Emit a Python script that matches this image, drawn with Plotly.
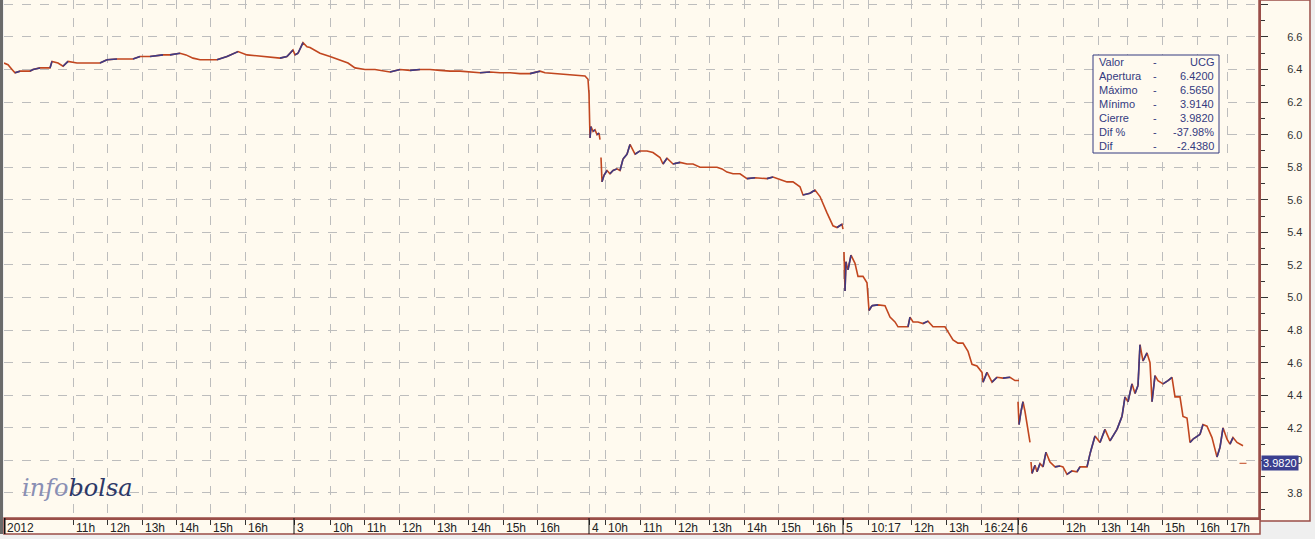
import plotly.graph_objects as go

# intraday bars (bar index along the compressed trading axis) and prices, one block per session
d2_bar = [0, 4, 8, 11, 16, 26, 29, 36, 46, 48, 54, 59, 64, 73, 86, 96, 103, 113, 129, 136, 146, 159, 166,
          176, 182, 189, 196, 206, 213, 223, 234, 243, 251, 263, 276, 283, 289]
d2_price = [6.44, 6.43, 6.40, 6.38, 6.39, 6.39, 6.40, 6.41, 6.41, 6.45, 6.44, 6.42, 6.45, 6.44, 6.44, 6.44,
            6.46, 6.465, 6.465, 6.48, 6.48, 6.49, 6.49, 6.50, 6.49, 6.47, 6.46, 6.46, 6.46, 6.48, 6.51, 6.49,
            6.485, 6.48, 6.47, 6.48, 6.52]

d3_bar = [291, 294, 299, 303, 306, 311, 316, 326, 336, 344, 351, 361, 371, 381, 386, 396, 406, 416, 426,
          436, 446, 456, 466, 476, 486, 496, 506, 516, 526, 536, 541, 551, 561, 571, 581, 584]
d3_price = [6.49, 6.50, 6.565, 6.54, 6.535, 6.52, 6.50, 6.48, 6.46, 6.44, 6.41, 6.40, 6.40, 6.39, 6.385,
            6.40, 6.395, 6.40, 6.40, 6.395, 6.39, 6.39, 6.385, 6.38, 6.385, 6.38, 6.38, 6.375, 6.375, 6.39,
            6.38, 6.375, 6.37, 6.365, 6.36, 6.34]

d4a_bar = [585, 586, 587, 589, 591, 593, 595, 596]
d4a_price = [6.25, 5.98, 6.05, 6.02, 6.03, 6.00, 6.01, 5.97]
d4b_bar = [597, 598, 600, 603, 606, 609, 613, 616, 619, 623, 626, 629, 631, 636, 643, 649, 656, 659, 663,
           669, 676, 683, 689, 696, 706, 713, 718, 723, 729, 736, 743, 751, 763, 769, 776, 783, 789, 796,
           799, 806, 811, 816, 823, 829, 833, 838, 839]
d4b_price = [5.86, 5.71, 5.75, 5.78, 5.76, 5.78, 5.79, 5.78, 5.85, 5.88, 5.94, 5.90, 5.88, 5.90, 5.90,
             5.89, 5.86, 5.82, 5.855, 5.82, 5.83, 5.82, 5.82, 5.80, 5.80, 5.80, 5.79, 5.77, 5.76, 5.76,
             5.73, 5.735, 5.73, 5.74, 5.725, 5.71, 5.71, 5.68, 5.63, 5.64, 5.66, 5.62, 5.52, 5.44, 5.43,
             5.45, 5.42]

d5_bar = [840, 841, 842, 844, 847, 851, 854, 859, 863, 864, 865, 868, 874, 881, 886, 891, 894, 899, 904,
          906, 909, 914, 919, 924, 929, 936, 941, 943, 949, 954, 959, 964, 968, 973, 978, 979, 983, 988,
          993, 999, 1006, 1011, 1015]
d5_price = [5.28, 5.04, 5.22, 5.17, 5.26, 5.21, 5.13, 5.13, 5.09, 4.98, 4.92, 4.95, 4.955, 4.95, 4.88,
            4.85, 4.82, 4.82, 4.82, 4.88, 4.85, 4.85, 4.84, 4.855, 4.82, 4.82, 4.82, 4.80, 4.74, 4.72,
            4.72, 4.67, 4.59, 4.58, 4.54, 4.48, 4.54, 4.48, 4.51, 4.505, 4.51, 4.49, 4.49]

d6a_bar = [1014, 1015, 1017, 1019, 1021, 1023, 1025, 1026]
d6a_price = [4.36, 4.22, 4.30, 4.36, 4.30, 4.23, 4.15, 4.11]
d6b_bar = [1027, 1028, 1031, 1033, 1036, 1039, 1042, 1046, 1051, 1056, 1059, 1063, 1068, 1073, 1076, 1083,
           1086, 1091, 1096, 1101, 1106, 1113, 1118, 1121, 1124, 1128, 1131, 1134, 1136, 1139, 1143, 1146,
           1148, 1151, 1154, 1159, 1164, 1168, 1171, 1176, 1179, 1183, 1186, 1189, 1196, 1199, 1203, 1208,
           1213, 1216, 1219, 1223, 1226, 1229, 1233, 1236, 1239]
d6b_price = [3.99, 3.92, 3.97, 3.93, 3.98, 3.96, 4.05, 3.99, 3.96, 3.965, 3.96, 3.914, 3.935, 3.93, 3.96,
             3.96, 4.04, 4.15, 4.11, 4.19, 4.12, 4.19, 4.27, 4.39, 4.36, 4.47, 4.41, 4.46, 4.71, 4.61, 4.66,
             4.60, 4.36, 4.52, 4.49, 4.47, 4.49, 4.51, 4.39, 4.39, 4.27, 4.26, 4.11, 4.13, 4.16, 4.22, 4.21,
             4.14, 4.02, 4.08, 4.20, 4.13, 4.10, 4.14, 4.11, 4.10, 4.09]

close_bar = [1239]
close_price = [3.982]

# axis ticks
hour_bars = [69, 103, 138, 172, 206, 241, 326, 360, 395, 430, 464, 499, 533, 601, 636, 671, 705, 740, 774,
             809, 864, 907, 942, 977, 1059, 1094, 1123, 1158, 1193, 1223]
hour_labels = ["11h", "12h", "13h", "14h", "15h", "16h", "10h", "11h", "12h", "13h", "14h", "15h", "16h",
               "10h", "11h", "12h", "13h", "14h", "15h", "16h", "10:17", "12h", "13h", "16:24",
               "12h", "13h", "14h", "15h", "16h", "17h"]
day_bars = [0, 290, 585, 839, 1014]
day_labels = ["2012", "3", "4", "5", "6"]

info_rows = ["Valor", "Apertura", "Máximo", "Mínimo", "Cierre", "Dif %", "Dif"]
info_vals = ["UCG", "6.4200", "6.5650", "3.9140", "3.9820", "-37.98%", "-2.4380"]

RED = "#c1461f"
BLUE = "#3d3b86"
BROWN = "#9a4e48"
CREAM = "#fffaef"
GRID = "#bdbdbd"
NAVY = "#343a80"

segments = [(d2_bar + d3_bar + d4a_bar, d2_price + d3_price + d4a_price),
            (d4b_bar, d4b_price), (d5_bar, d5_price), (d6a_bar, d6a_price), (d6b_bar, d6b_price)]

xs, ys, ubx, uby = [], [], [], []
for bx, py in segments:
    xs += bx + [None]
    ys += py + [None]
    for i in range(len(py) - 1):
        if py[i + 1] > py[i]:
            ubx += [bx[i], bx[i + 1], None]
            uby += [py[i], py[i + 1], None]

fig = go.Figure()
fig.add_trace(go.Scatter(x=xs, y=ys, mode="lines", line=dict(color=RED, width=1.6),
                         hoverinfo="skip", showlegend=False, connectgaps=False))
fig.add_trace(go.Scatter(x=ubx, y=uby, mode="lines", line=dict(color=BLUE, width=1.6),
                         hoverinfo="skip", showlegend=False, connectgaps=False))
fig.add_trace(go.Scatter(x=close_bar, y=close_price, mode="markers",
                         marker=dict(symbol="line-ew", size=5, line=dict(color=RED, width=1)),
                         hoverinfo="skip", showlegend=False))

W, H = 1255.0, 518.0
shapes = []
# right price panel and bottom time strip
shapes.append(dict(type="rect", xref="paper", yref="paper", x0=1.0, x1=1306 / W, y0=-3 / H, y1=1.0,
                   fillcolor=CREAM, line=dict(color=BROWN, width=1.5), layer="below"))
shapes.append(dict(type="rect", xref="paper", yref="paper", x0=0, x1=1256 / W, y0=-16 / H, y1=0,
                   fillcolor=CREAM, line=dict(color=BROWN, width=1.5), layer="below"))
shapes.append(dict(type="rect", xref="paper", yref="paper", x0=-4 / W, x1=-1 / W, y0=-16 / H, y1=1,
                   fillcolor="#6a6a6a", line=dict(width=0), layer="above"))
# day separators in the time strip
for i, b in enumerate(day_bars):
    shapes.append(dict(type="line", xref="x", yref="paper", x0=b, x1=b, y0=-16 / H, y1=0,
                       line=dict(color="#111", width=3 if i == 0 else 1)))
# info box
shapes.append(dict(type="rect", xref="paper", yref="paper", x0=1089 / W, x1=1215 / W,
                   y0=(H - 153) / H, y1=(H - 55) / H, fillcolor=CREAM,
                   line=dict(color=NAVY, width=1), layer="above"))

annotations = []
for b, t in zip(hour_bars, hour_labels):
    annotations.append(dict(x=b, y=-1 / H, xref="x", yref="paper", text=t, showarrow=False,
                            xanchor="left", yanchor="top", xshift=1,
                            font=dict(family="Arial, Liberation Sans", size=12, color="#222")))
for b, t in zip(day_bars, day_labels):
    annotations.append(dict(x=b, y=-1 / H, xref="x", yref="paper", text=t, showarrow=False,
                            xanchor="left", yanchor="top", xshift=1,
                            font=dict(family="Arial, Liberation Sans", size=12, color="#222")))
for i, (lab, val) in enumerate(zip(info_rows, info_vals)):
    yc = (H - (62 + 14 * i)) / H
    f = dict(family="Arial, Liberation Sans", size=11, color=NAVY)
    annotations.append(dict(x=1093 / W, y=yc, xref="paper", yref="paper", text=lab, showarrow=False,
                            xanchor="left", yanchor="middle", font=f))
    annotations.append(dict(x=1147 / W, y=yc, xref="paper", yref="paper", text="-", showarrow=False,
                            xanchor="left", yanchor="middle", font=f))
    annotations.append(dict(x=1212 / W, y=yc, xref="paper", yref="paper", text=val, showarrow=False,
                            xanchor="right", yanchor="middle", font=f))
# last price tag
annotations.append(dict(x=1.0, y=close_price[0], xref="paper", yref="y", text="3.9820", showarrow=False,
                        xanchor="left", yanchor="middle", xshift=2, bgcolor="#3b3f8f", borderpad=1,
                        font=dict(family="Arial, Liberation Sans", size=11, color="white")))
# logo
annotations.append(dict(x=16 / W, y=30 / H, xref="paper", yref="paper", showarrow=False,
                        xanchor="left", yanchor="middle",
                        text="<i><span style='color:#8a8fb4'>info</span>"
                             "<span style='color:#2c3868'>bolsa</span></i>",
                        font=dict(family="DejaVu Serif", size=24)))

fig.update_layout(
    width=1315, height=539,
    margin=dict(l=4, r=56, t=0, b=21),
    paper_bgcolor="#efefef",
    plot_bgcolor=CREAM,
    shapes=shapes,
    annotations=annotations,
    xaxis=dict(range=[0, 1255], tickvals=day_bars + hour_bars, showticklabels=False,
               ticks="outside", ticklen=5, tickcolor="#333",
               showgrid=True, gridcolor=GRID, griddash="dash", gridwidth=1,
               showline=True, linecolor=BROWN, linewidth=2, zeroline=False, fixedrange=True),
    yaxis=dict(range=[3.646, 6.827], side="right", dtick=0.2, tick0=0, tickformat=".1f",
               ticks="outside", ticklen=7, tickcolor="#333", ticklabelstandoff=17,
               minor=dict(dtick=0.1, ticks="outside", ticklen=4, tickcolor="#333", showgrid=False),
               tickfont=dict(family="Arial, Liberation Sans", size=11, color="#333"),
               showgrid=True, gridcolor=GRID, griddash="dash", gridwidth=1,
               showline=True, linecolor=BROWN, linewidth=2, zeroline=False, fixedrange=True),
)

fig.write_html("out.html", config={"displayModeBar": False},
               post_script="document.body.style.margin='0';")
